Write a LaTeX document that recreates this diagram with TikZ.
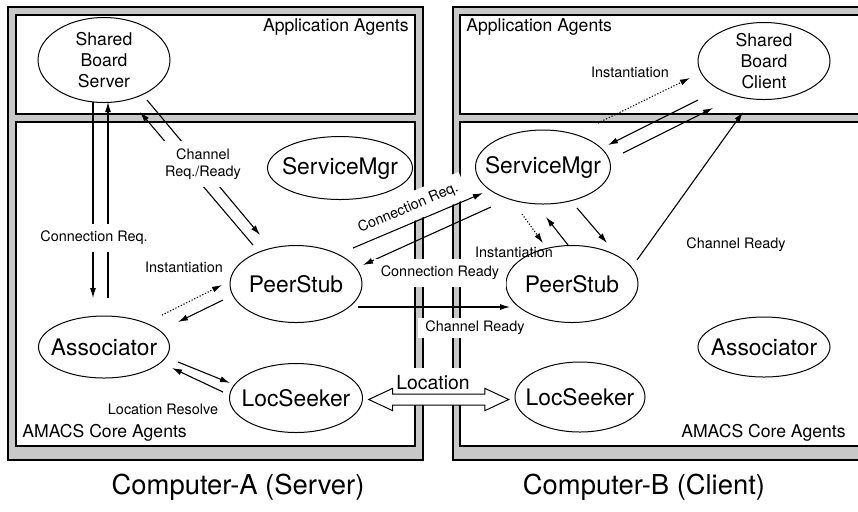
\documentclass[tikz,border=0pt]{standalone}
\usepackage{fontspec}
\setmainfont{TeX Gyre Heros}
\usepackage{tikz}
\usetikzlibrary{arrows.meta,calc,shapes.geometric,shapes.arrows}
\definecolor{framegray}{HTML}{C8C8C8}

\begin{document}
\begin{tikzpicture}[
  x=0.5pt, y=-0.5pt,
  agent/.style={draw, ellipse, inner xsep=-14pt, inner ysep=-8pt, align=center,
    line width=0.5pt, font=\fontsize{11.4}{13}\selectfont},
  appagent/.style={agent, font=\fontsize{8.8}{10.6}\selectfont},
  arrow/.style={-{Latex[length=5pt,width=3pt]}, line width=0.55pt},
  inst/.style={arrow, dash pattern=on 0.6pt off 0.9pt},
  lbl/.style={font=\fontsize{7.2}{8.6}\selectfont, inner sep=1pt},
  cover/.style={lbl, fill=white, inner sep=3.5pt},
  area/.style={font=\fontsize{8.8}{10}\selectfont, inner sep=0pt},
  outer/.style={draw, fill=framegray, line width=0.6pt},
  panel/.style={draw, fill=white, line width=0.6pt}
]
\clip (0,0) rectangle (858,511);

% computer frames
\draw[outer] (8,7) rectangle (423,460);
\draw[panel] (16,15) rectangle (415,114);
\draw[panel] (16,122) rectangle (415,446);
\draw[outer] (453,7) rectangle (880,460);
\draw[panel] (460,15) rectangle (870,114);
\draw[panel] (460,122) rectangle (870,446);

\node[area, anchor=east] (appA) at (409,27) {Application Agents};
\node[area, anchor=west] (appB) at (466,27) {Application Agents};
\node[area, anchor=west] (coreA) at (22,433) {AMACS Core Agents};
\node[area, anchor=east] (coreB) at (846,433) {AMACS Core Agents};

% agents
\node[appagent, minimum width=66pt, minimum height=42.5pt] (sbs) at (104,60) {Shared\\Board\\Server};
\node[agent, minimum width=72.5pt, minimum height=31.5pt] (smA) at (340,168) {ServiceMgr};
\node[agent, minimum width=66pt, minimum height=38.5pt] (psA) at (296,284) {PeerStub};
\node[agent, minimum width=65.5pt, minimum height=31pt] (asA) at (104,347) {Associator};
\node[agent, minimum width=66.5pt, minimum height=34.5pt] (lsA) at (296,398) {LocSeeker};

\node[appagent, minimum width=66pt, minimum height=38.5pt] (sbc) at (764,61) {Shared\\Board\\Client};
\node[agent, minimum width=67.5pt, minimum height=37pt] (smB) at (543,167) {ServiceMgr};
\node[agent, minimum width=66pt, minimum height=38.5pt] (psB) at (572,284) {PeerStub};
\node[agent, minimum width=66pt, minimum height=30pt] (asB) at (764,347) {Associator};
\node[agent, minimum width=65pt, minimum height=35pt] (lsB) at (580,397) {LocSeeker};

% Computer-A
\draw[arrow] ([shift={(-11,42)}]sbs.center) -- ([shift={(-11,-49)}]asA.center);
\draw[arrow] ([shift={(4,-49)}]asA.center) -- ([shift={(4,42)}]sbs.center);
\node[cover] (connReqA) at (94,238) {Connection Req.};

\draw[arrow] ([shift={(-43,-39)}]psA.center) -- ([shift={(36,52)}]sbs.center);
\draw[arrow] ([shift={(43,40)}]sbs.center) -- ([shift={(-36,-49)}]psA.center);
\node[cover, align=center] (chanA) at (203,164) {Channel\\Req./Ready};

\draw[inst] ([shift={(58,-32)}]asA.center) -- ([shift={(-74,1)}]psA.center);
\draw[arrow] ([shift={(-73,16)}]psA.center) -- ([shift={(74,-25)}]asA.center);
\node[lbl] (instA) at (184,267) {Instantiation};

\draw[arrow] ([shift={(74,15)}]asA.center) -- ([shift={(-66,-15)}]lsA.center);
\draw[arrow] ([shift={(-73,-6)}]lsA.center) -- ([shift={(68,21)}]asA.center);
\node[lbl] (resolve) at (163,409) {Location Resolve};

% between the computers
\draw[arrow] ([shift={(57,-36)}]psA.center) --
  node[cover, sloped, above=0.3pt, pos=0.47] (connReqB) {Connection Req.}
  ([shift={(-60,26)}]smB.center);
\draw[arrow] ([shift={(-52,40)}]smB.center) -- ([shift={(67,-19)}]psA.center);
\node[cover] (connReady) at (440,273) {Connection Ready};

\draw[arrow] ([shift={(62,23)}]psA.center) -- ([shift={(-62,23)}]psB.center);
\node[cover, inner ysep=1.5pt] (chanReady) at (475,328) {Channel Ready};

\node[cover, inner sep=4pt, font=\fontsize{9.7}{11}\selectfont] (locLbl) at (433,383) {Location};
\node[double arrow, draw, fill=white, line width=0.5pt, inner xsep=0pt, inner ysep=2.5pt,
  minimum height=70pt, double arrow head extend=2.8pt,
  double arrow tip angle=50] (loc) at ($(lsA.east)!0.5!(lsB.west)+(0,2)$) {};

% Computer-B
\draw[inst] ([shift={(55,-44)}]smB.center) -- ([shift={(-74,17)}]sbc.center);
\node[lbl] (instB) at (630,72) {Instantiation};
\draw[arrow] ([shift={(-66,39)}]sbc.center) -- ([shift={(65,-22)}]smB.center);
\draw[arrow] ([shift={(80,-14)}]smB.center) -- ([shift={(-51,47)}]sbc.center);

\draw[arrow] ([shift={(65,-24)}]psB.center) -- ([shift={(-21,51)}]sbc.center);
\node[lbl] (chanB) at (736,245) {Channel Ready};

\draw[inst] ([shift={(-21,47)}]smB.center) -- ([shift={(-29,-41)}]psB.center);
\draw[arrow] ([shift={(-4,-39)}]psB.center) -- ([shift={(3,50)}]smB.center);
\draw[arrow] ([shift={(34,41)}]smB.center) -- ([shift={(35,-41)}]psB.center);
\node[lbl] (instC) at (514,252) {Instantiation};

\node[font=\fontsize{13.7}{16}\selectfont] (compA) at (238,487) {Computer-A (Server)};
\node[font=\fontsize{13.7}{16}\selectfont] (compB) at (644,487) {Computer-B (Client)};
\end{tikzpicture}
\end{document}
